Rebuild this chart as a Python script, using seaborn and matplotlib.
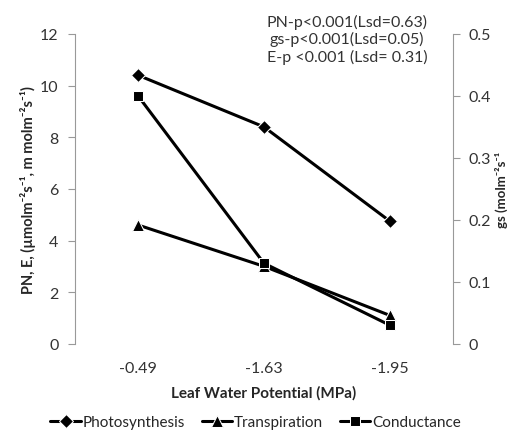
import seaborn as sns
import matplotlib.pyplot as plt
import pandas as pd
import numpy as np

categories = ['-0.49', '-1.63', '-1.95']
photosynthesis = [10.4, 8.4, 4.75]
transpiration = [4.6, 3.0, 1.1]
conductance = [0.40, 0.13, 0.03]

sns.set_style('white')
plt.rcParams['font.family'] = ['Lato', 'DejaVu Sans']

pos = np.arange(len(categories))
dfLeft = pd.DataFrame({'pos': pos, 'Photosynthesis': photosynthesis, 'Transpiration': transpiration})
dfRight = pd.DataFrame({'pos': pos, 'Conductance': conductance})

fig = plt.figure(figsize=(5.11, 4.31), dpi=100)
ax = fig.add_axes([0.147, 0.2, 0.739, 0.719])
ax2 = ax.twinx()

sns.lineplot(data=dfLeft, x='pos', y='Photosynthesis', ax=ax, color='black', lw=2.2,
             marker='D', markersize=7, label='Photosynthesis', legend=False)
sns.lineplot(data=dfLeft, x='pos', y='Transpiration', ax=ax, color='black', lw=2.2,
             marker='^', markersize=9, label='Transpiration', legend=False)
sns.lineplot(data=dfRight, x='pos', y='Conductance', ax=ax2, color='black', lw=2.2,
             marker='s', markersize=7, label='Conductance', legend=False)

ax.set_xlim(-0.5, 2.5)
ax.set_ylim(0, 12)
ax2.set_ylim(0, 0.5)
ax.set_yticks(range(0, 13, 2))
ax2.set_yticks([0, 0.1, 0.2, 0.3, 0.4, 0.5])
ax2.set_yticklabels(['0', '0.1', '0.2', '0.3', '0.4', '0.5'])
ax.set_xticks(pos)
ax.set_xticklabels(categories)

for a in (ax, ax2):
    for s in ('top', 'bottom', 'left', 'right'):
        a.spines[s].set_visible(False)
ax.spines['left'].set_visible(True)
ax.spines['left'].set_color('#999999')
ax2.spines['right'].set_visible(True)
ax2.spines['right'].set_color('#999999')

ax.tick_params(axis='y', left=True, length=5, color='#999999', labelsize=11.5, labelcolor='#333333', pad=7)
ax.tick_params(axis='x', bottom=False, labelsize=11.5, labelcolor='#333333', pad=9)
ax2.tick_params(axis='y', right=True, length=5, color='#999999', labelsize=11.5, labelcolor='#333333', pad=6)

ax.set_xlabel('Leaf Water Potential (MPa)', fontsize=11, fontweight='bold', labelpad=7)
ax.set_ylabel('PN, E, (µmolm⁻²s⁻¹, m molm⁻²s⁻¹)', fontsize=10.5, fontweight='bold', labelpad=3)
ax2.set_ylabel('gs (molm⁻²s⁻¹', fontsize=9.5, fontweight='bold', labelpad=3)

ax.text(0.72, 1.065, 'PN-p<0.001(Lsd=0.63)\ngs-p<0.001(Lsd=0.05)\nE-p <0.001 (Lsd= 0.31)',
        transform=ax.transAxes, ha='center', va='top', fontsize=11.5, color='#333333', linespacing=1.2)

handles = ax.get_legend_handles_labels()[0] + ax2.get_legend_handles_labels()[0]
labels = ax.get_legend_handles_labels()[1] + ax2.get_legend_handles_labels()[1]
fig.legend(handles, labels, loc='lower center', bbox_to_anchor=(0.5, -0.03), ncol=3, frameon=False,
           fontsize=11, handlelength=2.0, handletextpad=0.1, columnspacing=1.1, numpoints=1)

fig.savefig('out.png', dpi=100)
